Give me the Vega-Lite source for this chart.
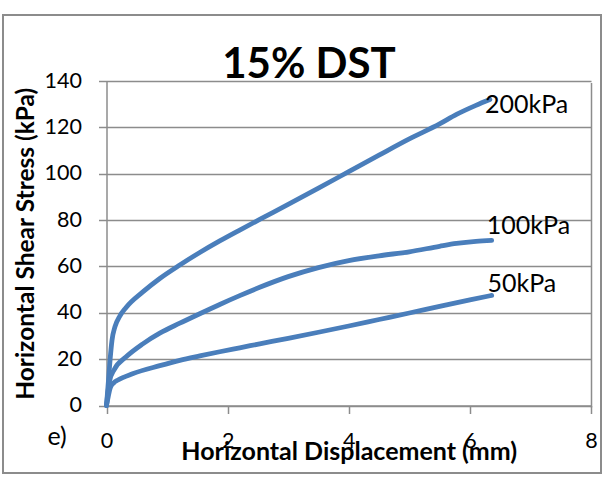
{
  "$schema": "https://vega.github.io/schema/vega-lite/v6.json",
  "width": 598,
  "height": 458,
  "autosize": "none",
  "padding": {"left": 3, "top": 15, "right": 2, "bottom": 4},
  "background": "white",
  "config": {
    "view": {"stroke": "#8c8c8c", "strokeWidth": 2},
    "font": "Lato"
  },
  "title": {
    "text": "15% DST",
    "font": "Lato",
    "fontSize": 42,
    "fontWeight": "bold",
    "color": "black",
    "anchor": "middle",
    "frame": "group",
    "dx": 7,
    "offset": -105,
    "baseline": "alphabetic"
  },
  "datasets": {
    "curves": [
      {"series": "200kPa", "displacement": 0, "stress": 0},
      {"series": "200kPa", "displacement": 0.03, "stress": 10},
      {"series": "200kPa", "displacement": 0.06, "stress": 20},
      {"series": "200kPa", "displacement": 0.09, "stress": 28},
      {"series": "200kPa", "displacement": 0.14, "stress": 34},
      {"series": "200kPa", "displacement": 0.22, "stress": 38.6},
      {"series": "200kPa", "displacement": 0.32, "stress": 42.2},
      {"series": "200kPa", "displacement": 0.6, "stress": 49},
      {"series": "200kPa", "displacement": 0.88, "stress": 54.8},
      {"series": "200kPa", "displacement": 1.21, "stress": 60.6},
      {"series": "200kPa", "displacement": 1.54, "stress": 66},
      {"series": "200kPa", "displacement": 1.87, "stress": 71},
      {"series": "200kPa", "displacement": 2.2, "stress": 75.7},
      {"series": "200kPa", "displacement": 2.53, "stress": 80.3},
      {"series": "200kPa", "displacement": 3.0, "stress": 86.8},
      {"series": "200kPa", "displacement": 3.5, "stress": 93.8},
      {"series": "200kPa", "displacement": 4.0, "stress": 100.9},
      {"series": "200kPa", "displacement": 4.5, "stress": 108},
      {"series": "200kPa", "displacement": 5.0, "stress": 115},
      {"series": "200kPa", "displacement": 5.5, "stress": 121.5},
      {"series": "200kPa", "displacement": 5.78, "stress": 125.6},
      {"series": "200kPa", "displacement": 6.1, "stress": 129.5},
      {"series": "200kPa", "displacement": 6.33, "stress": 132},
      {"series": "100kPa", "displacement": 0, "stress": 0},
      {"series": "100kPa", "displacement": 0.02, "stress": 5},
      {"series": "100kPa", "displacement": 0.05, "stress": 10.5},
      {"series": "100kPa", "displacement": 0.13, "stress": 15.6},
      {"series": "100kPa", "displacement": 0.32, "stress": 20.9},
      {"series": "100kPa", "displacement": 0.6, "stress": 26.6},
      {"series": "100kPa", "displacement": 0.88, "stress": 31.2},
      {"series": "100kPa", "displacement": 1.21, "stress": 35.5},
      {"series": "100kPa", "displacement": 1.54, "stress": 39.6},
      {"series": "100kPa", "displacement": 1.87, "stress": 43.6},
      {"series": "100kPa", "displacement": 2.2, "stress": 47.4},
      {"series": "100kPa", "displacement": 2.53, "stress": 51},
      {"series": "100kPa", "displacement": 3.0, "stress": 55.6},
      {"series": "100kPa", "displacement": 3.5, "stress": 59.5},
      {"series": "100kPa", "displacement": 4.0, "stress": 62.5},
      {"series": "100kPa", "displacement": 4.5, "stress": 64.6},
      {"series": "100kPa", "displacement": 5.0, "stress": 66.3},
      {"series": "100kPa", "displacement": 5.5, "stress": 68.7},
      {"series": "100kPa", "displacement": 5.78, "stress": 69.9},
      {"series": "100kPa", "displacement": 6.1, "stress": 70.8},
      {"series": "100kPa", "displacement": 6.36, "stress": 71.2},
      {"series": "50kPa", "displacement": 0, "stress": 0},
      {"series": "50kPa", "displacement": 0.03, "stress": 4},
      {"series": "50kPa", "displacement": 0.06, "stress": 7.5},
      {"series": "50kPa", "displacement": 0.12, "stress": 9.8},
      {"series": "50kPa", "displacement": 0.19, "stress": 11},
      {"series": "50kPa", "displacement": 0.43, "stress": 13.7},
      {"series": "50kPa", "displacement": 0.88, "stress": 17.2},
      {"series": "50kPa", "displacement": 1.21, "stress": 19.5},
      {"series": "50kPa", "displacement": 1.54, "stress": 21.4},
      {"series": "50kPa", "displacement": 1.87, "stress": 23.2},
      {"series": "50kPa", "displacement": 2.2, "stress": 24.9},
      {"series": "50kPa", "displacement": 2.53, "stress": 26.6},
      {"series": "50kPa", "displacement": 3.0, "stress": 29},
      {"series": "50kPa", "displacement": 3.5, "stress": 31.6},
      {"series": "50kPa", "displacement": 4.0, "stress": 34.3},
      {"series": "50kPa", "displacement": 4.5, "stress": 37.1},
      {"series": "50kPa", "displacement": 5.0, "stress": 39.9},
      {"series": "50kPa", "displacement": 5.5, "stress": 42.8},
      {"series": "50kPa", "displacement": 6.0, "stress": 45.6},
      {"series": "50kPa", "displacement": 6.36, "stress": 47.5}
    ],
    "labels": [
      {"label": "200kPa", "displacement": 6.25, "stress": 129.8},
      {"label": "100kPa", "displacement": 6.28, "stress": 77.6},
      {"label": "50kPa", "displacement": 6.29, "stress": 52.5}
    ],
    "panel": [
      {"label": "e)", "displacement": -0.975, "stress": -13.5}
    ]
  },
  "layer": [
    {
      "data": {"name": "curves"},
      "mark": {"type": "line", "interpolate": "monotone", "strokeWidth": 4.8, "color": "#4a7ebb", "strokeCap": "round", "strokeJoin": "round"},
      "encoding": {
        "x": {
          "field": "displacement",
          "type": "quantitative",
          "scale": {"domain": [0, 8], "range": [103.5, 588], "nice": false, "zero": false},
          "axis": {
            "title": "Horizontal Displacement (mm)",
            "values": [0, 2, 4, 6, 8],
            "format": "d",
            "offset": -67.5,
            "grid": true,
            "gridOpacity": {"condition": {"test": "datum.value === 8", "value": 1}, "value": 0},
            "gridColor": "#8c8c8c",
            "gridWidth": 1.5,
            "domainColor": "#8c8c8c",
            "domainWidth": 1.5,
            "tickColor": "#8c8c8c",
            "tickWidth": 1.5,
            "tickSize": 8,
            "labelFont": "Lato",
            "labelFontSize": 21.5,
            "labelColor": "black",
            "labelPadding": 17,
            "labelFlush": false,
            "labelOverlap": false,
            "titleFont": "Lato",
            "titleFontSize": 25,
            "titleFontWeight": "bold",
            "titleColor": "black",
            "titleBaseline": "alphabetic",
            "titleY": 54
          }
        },
        "y": {
          "field": "stress",
          "type": "quantitative",
          "scale": {"domain": [0, 140], "range": [390.5, 66], "nice": false},
          "axis": {
            "title": "Horizontal Shear Stress (kPa)",
            "values": [0, 20, 40, 60, 80, 100, 120, 140],
            "format": "d",
            "offset": -103.5,
            "grid": true,
            "gridColor": "#8c8c8c",
            "gridWidth": 1.5,
            "domainColor": "#8c8c8c",
            "domainWidth": 1.5,
            "tickColor": "#8c8c8c",
            "tickWidth": 1.5,
            "tickSize": 8,
            "labelFont": "Lato",
            "labelFontSize": 21.5,
            "labelColor": "black",
            "labelPadding": 17,
            "labelFlush": false,
            "labelOverlap": false,
            "titleFont": "Lato",
            "titleFontSize": 24.5,
            "titleFontWeight": "bold",
            "titleColor": "black",
            "titleBaseline": "alphabetic",
            "titleX": -73.5
          }
        },
        "detail": {"field": "series", "type": "nominal"}
      }
    },
    {
      "data": {"name": "labels"},
      "mark": {"type": "text", "align": "left", "baseline": "middle", "font": "Lato", "fontSize": 25, "color": "black"},
      "encoding": {
        "x": {"field": "displacement", "type": "quantitative"},
        "y": {"field": "stress", "type": "quantitative"},
        "text": {"field": "label"}
      }
    },
    {
      "data": {"name": "panel"},
      "mark": {"type": "text", "align": "left", "baseline": "middle", "font": "Lato", "fontSize": 25, "color": "black"},
      "encoding": {
        "x": {"field": "displacement", "type": "quantitative"},
        "y": {"field": "stress", "type": "quantitative"},
        "text": {"field": "label"}
      }
    }
  ]
}
